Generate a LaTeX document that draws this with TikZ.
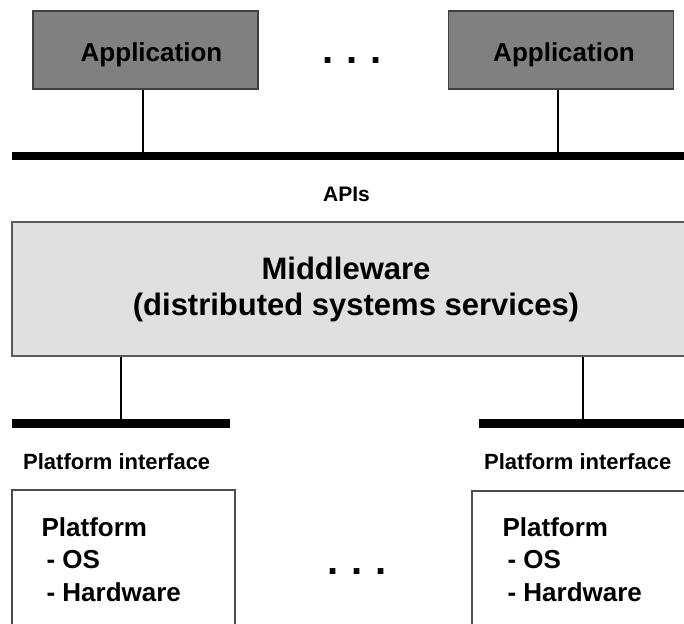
\documentclass[tikz,border=0pt]{standalone}
\usepackage{fontspec}
\setmainfont{Liberation Sans}
\begin{document}
\begin{tikzpicture}[x=1pt,y=-1pt,
  appbox/.style={draw=black!75, line width=1.2pt, fill=black!50, inner sep=0pt,
    minimum width=225pt, minimum height=78pt,
    font=\fontsize{26}{30}\selectfont\bfseries, text height=24pt, text depth=0pt},
  mwbox/.style={draw=black!65, line width=1.4pt, fill=black!12, inner sep=0pt,
    minimum width=688pt, minimum height=134pt, align=center,
    font=\fontsize{31}{36}\selectfont\bfseries},
  platbox/.style={draw=black!70, line width=1.2pt, fill=white, inner sep=0pt,
    minimum width=223pt, minimum height=210pt},
  plattext/.style={inner sep=0pt, align=left, anchor=north west,
    font=\fontsize{26}{32.5}\selectfont\bfseries},
  bar/.style={fill=black, inner sep=0pt, minimum height=8.5pt},
  lbl/.style={inner sep=0pt, anchor=base west, font=\fontsize{22}{26}\selectfont\bfseries},
  dots/.style={inner sep=0pt, anchor=base, font=\fontsize{40}{44}\selectfont\bfseries},
  conn/.style={draw=black, line width=1.4pt}]
\clip (0,0) rectangle (684,623);
\fill[white] (0,0) rectangle (684,623);

% applications
\node[appbox] (app1) at (145.5,50) {\hspace*{12pt}Application};
\node[appbox] (app2) at (561,50) {\hspace*{6pt}Application};
\node[dots] (topdots) at (352,64) {.\,\,.\,\,.};

% API bar
\node[bar, minimum width=678pt] (apibar) at (351,156) {};
\coordinate (c1) at (143,0);
\coordinate (c2) at (558,0);
\draw[conn] (app1.south -| c1) -- (apibar.north -| c1);
\draw[conn] (app2.south -| c2) -- (apibar.north -| c2);
\node[inner sep=0pt, anchor=base, font=\fontsize{21}{25}\selectfont\bfseries] (apis) at (346.5,201) {APIs};

% middleware
\node[mwbox] (mw) at (356,289) {Middleware\hspace*{20pt}\\(distributed systems services)};

% platform bars
\node[bar, minimum width=218pt] (pbar1) at (121,423.5) {};
\node[bar, minimum width=211pt] (pbar2) at (584.5,423.5) {};
\coordinate (c3) at (121,0);
\coordinate (c4) at (583,0);
\draw[conn] (mw.south -| c3) -- (pbar1.north -| c3);
\draw[conn] (mw.south -| c4) -- (pbar2.north -| c4);
\node[lbl] (pi1) at (23,469) {Platform interface};
\node[lbl] (pi2) at (484,469) {Platform interface};

% platforms
\node[platbox] (plat1) at (123.5,595) {};
\node[platbox] (plat2) at (583.5,596) {};
\node[plattext] (plat1txt) at ([xshift=30pt,yshift=-28pt]plat1.north west)
  {Platform\\\hspace*{5pt}- OS\\\hspace*{5pt}- Hardware};
\node[plattext] (plat2txt) at ([xshift=31pt,yshift=-27pt]plat2.north west)
  {Platform\\\hspace*{5pt}- OS\\\hspace*{5pt}- Hardware};
\node[dots] (botdots) at (357,574) {.\,\,.\,\,.};
\end{tikzpicture}
\end{document}
